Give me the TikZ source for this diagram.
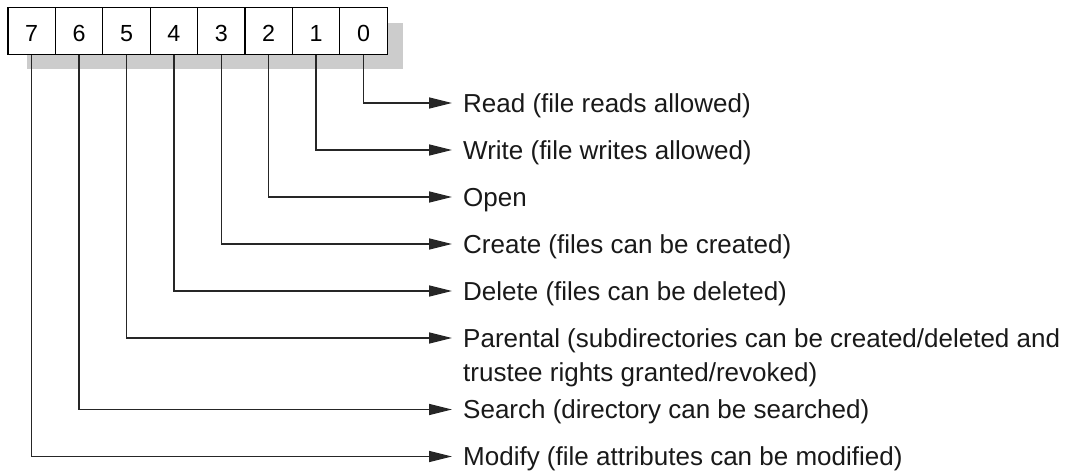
\documentclass[tikz,border=0pt]{standalone}
\usepackage{fontspec}
\setmainfont{Liberation Sans}
\usetikzlibrary{arrows.meta}
\begin{document}
\begin{tikzpicture}[x=1pt,y=-1pt,
  cell/.style={draw=black,line width=1.3pt,minimum width=47.4pt,minimum height=47pt,inner sep=0pt,
    font=\fontsize{23.3}{26}\selectfont,text height=21.3pt,text depth=0pt},
  conn/.style={draw=black!85,line width=1.5pt,-{Triangle[length=23pt,width=11pt]}},
  lbl/.style={anchor=base west,inner sep=0pt,font=\fontsize{26}{34.5}\selectfont,text=black!90}]
\useasboundingbox (0,0) rectangle (1072,472);
\fill[black!20] (27,23) rectangle (403,69);
\foreach \b [count=\i from 0] in {7,6,5,4,3,2,1,0}{
  \node[cell,fill=white] (b\b) at ({31.7+47.4*\i},31) {\b};
}
% arrow ends
\coordinate (e0) at (452,103);
\coordinate (e1) at (452,150);
\coordinate (e2) at (452,197);
\coordinate (e3) at (452,244);
\coordinate (e4) at (452,291);
\coordinate (e5) at (452,338);
\coordinate (e6) at (452,409.5);
\coordinate (e7) at (452,456.5);
% labels
\node[lbl] (l0) at (463,112.3) {Read (file reads allowed)};
\node[lbl] (l1) at (463,159.3) {Write (file writes allowed)};
\node[lbl] (l2) at (463,206.3) {Open};
\node[lbl] (l3) at (463,253.3) {Create (files can be created)};
\node[lbl] (l4) at (463,300.3) {Delete (files can be deleted)};
\node[lbl,align=left] (l5) at (463,381.8) {Parental (subdirectories can be created/deleted and\\trustee rights granted/revoked)};
\node[lbl] (l6) at (463,418.8) {Search (directory can be searched)};
\node[lbl] (l7) at (463,465.8) {Modify (file attributes can be modified)};
% connectors
\foreach \b in {0,...,7}{
  \draw[conn] (b\b.south) |- (e\b);
}
\end{tikzpicture}
\end{document}
